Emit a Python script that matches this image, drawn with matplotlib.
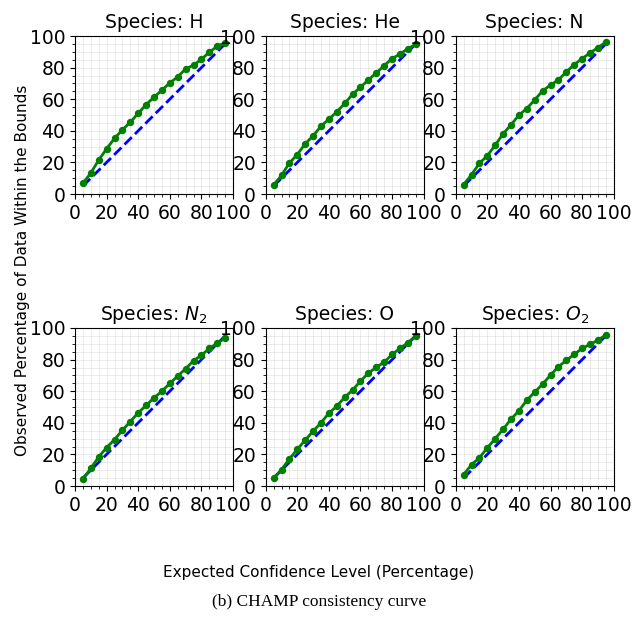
import matplotlib
matplotlib.use("Agg")
import matplotlib.pyplot as plt
from matplotlib.ticker import MultipleLocator

# expected confidence levels (percent)
levels = [5, 10, 15, 20, 25, 30, 35, 40, 45, 50, 55, 60, 65, 70, 75, 80, 85, 90, 95]

# observed percentage within bounds, per species
obs_H = [6.7, 13.3, 21.5, 28.6, 35.2, 40.6, 45.5, 51.0, 56.6, 61.3, 65.7, 70.3, 74.1, 79.2, 81.5, 85.3, 89.7, 93.5, 95.8]
obs_He = [5.7, 11.8, 19.6, 25.0, 31.8, 36.8, 42.9, 47.4, 52.0, 57.3, 63.2, 67.6, 72.2, 76.6, 81.3, 85.7, 88.6, 92.0, 94.7]
obs_N = [5.9, 12.2, 19.4, 24.2, 30.9, 38.1, 43.8, 49.9, 54.1, 59.6, 65.3, 69.0, 72.2, 77.3, 81.9, 85.7, 89.3, 92.6, 96.2]
obs_N2 = [4.4, 11.2, 18.4, 24.3, 29.4, 35.3, 40.8, 46.3, 51.0, 55.8, 60.0, 64.9, 69.6, 74.2, 79.3, 82.7, 87.1, 90.3, 93.7]
obs_O = [4.9, 10.4, 17.1, 23.3, 29.0, 34.7, 40.0, 46.1, 50.5, 56.2, 60.7, 66.4, 71.5, 75.1, 78.4, 83.3, 87.1, 90.7, 95.1]
obs_O2 = [7.2, 13.5, 17.9, 24.1, 30.0, 35.9, 42.3, 47.6, 54.3, 59.4, 64.5, 70.2, 75.5, 79.5, 83.3, 87.1, 89.6, 92.3, 95.6]

species = ["H", "He", "N", "$N_2$", "O", "$O_2$"]
observed = [obs_H, obs_He, obs_N, obs_N2, obs_O, obs_O2]

fig = plt.figure(figsize=(6.38, 6.22), dpi=100)

lefts = [75 / 638, 265.7 / 638, 455.7 / 638]
bottoms = [1 - 194 / 622, 1 - 486 / 622]
w = 158 / 638
h = 158 / 622

for i in range(6):
    row = i // 3
    col = i % 3
    ax = fig.add_axes([lefts[col], bottoms[row], w, h])
    ax.plot(levels, levels, color="blue", linestyle="--", linewidth=2, zorder=2)
    ax.plot(levels, observed[i], color="green", marker="o", markersize=4.3, linewidth=2, zorder=3)
    ax.set_xlim(0, 100)
    ax.set_ylim(0, 100)
    ax.set_xticks([0, 20, 40, 60, 80, 100])
    ax.set_yticks([0, 20, 40, 60, 80, 100])
    ax.xaxis.set_minor_locator(MultipleLocator(5))
    ax.yaxis.set_minor_locator(MultipleLocator(5))
    ax.grid(which="both", color="#d8d8d8", linewidth=0.6, alpha=0.6)
    ax.tick_params(labelsize=13.5)
    ax.set_title("Species: " + species[i], fontsize=13.5)

fig.text(0.035, 1 - 270 / 622, "Observed Percentage of Data Within the Bounds",
         rotation=90, ha="center", va="center", fontsize=11)
fig.text(0.5, 1 - 572 / 622, "Expected Confidence Level (Percentage)",
         ha="center", va="center", fontsize=11)
fig.text(0.5, 1 - 602 / 622, "(b) CHAMP consistency curve",
         ha="center", va="center", fontsize=12.5, family="Liberation Serif")

fig.savefig("out.png", dpi=100)
